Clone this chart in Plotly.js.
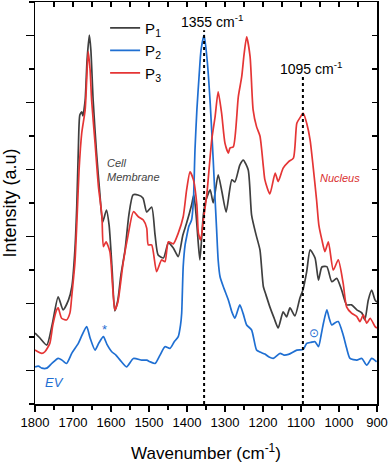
<!DOCTYPE html>
<html>
<head>
<meta charset="utf-8">
<script src="https://cdn.plot.ly/plotly-3.0.1.min.js"></script>
<style>
  html, body { margin: 0; padding: 0; background: #fff; }
  #chart { width: 390px; height: 463px; }
</style>
</head>
<body>
<div id="chart"></div>
<script>
// Raman spectra, values (arbitrary intensity units)
var p1Wave = [1800,1787,1769,1755,1739,1726,1712,1703,1695,1690,1686,1682,1677,1674,1668,1663,1657,1653,1647,1638,
  1629,1622,1612,1605,1597,1590,1582,1574,1563,1553,1542,1529,1516,1506,1493,1484,1476,1462,1449,1436,
  1423,1411,1401,1388,1382,1376,1370,1366,1357,1350,1339,1331,1318,1308,1297,1282,1274,1261,1252,1239,
  1230,1218,1208,1199,1192,1182,1171,1160,1147,1138,1129,1116,1103,1095,1085,1076,1063,1054,1045,1032,
  1019,1006,993,980,967,953,940,932,923,914,905,900];
var p1Int = [2.12,1.97,1.76,2.36,3.20,2.81,3.10,3.50,4.60,5.94,7.58,8.63,8.72,8.60,9.07,10.27,11.01,10.57,9.07,7.49,
  6.24,5.43,5.79,5.34,4.00,2.78,3.10,3.85,4.60,5.64,6.24,6.24,6.15,5.73,5.88,5.04,4.45,4.36,4.81,4.66,
  4.40,5.04,5.40,5.94,6.24,5.64,4.75,4.30,5.64,6.09,6.39,6.00,6.84,6.33,5.73,6.69,6.63,7.13,7.28,6.99,
  5.64,5.04,4.60,3.50,3.25,2.90,2.57,2.27,2.75,2.60,2.87,2.63,3.16,3.40,3.95,4.60,4.36,3.70,4.09,4.10,
  3.65,3.75,3.40,2.96,2.96,2.81,2.72,2.51,3.10,3.40,3.10,3.04];

var p2Wave = [1800,1791,1782,1769,1755,1739,1729,1717,1703,1686,1676,1664,1655,1642,1632,1620,1611,1598,1587,1576,
  1559,1541,1519,1506,1497,1484,1471,1458,1445,1434,1423,1417,1414,1410,1405,1401,1395,1388,1383,1379,
  1374,1368,1363,1355,1347,1339,1331,1326,1322,1318,1313,1303,1291,1282,1274,1261,1252,1243,1230,1217,
  1208,1195,1184,1173,1155,1145,1133,1111,1094,1085,1074,1063,1054,1047,1041,1032,1026,1019,1011,1002,
  989,980,971,953,940,927,914,901];
var p2Int = [1.11,1.13,1.07,1.07,1.22,1.36,1.31,1.21,1.52,1.81,2.06,2.31,1.97,1.61,1.82,2.01,1.79,1.56,1.46,1.31,
  1.11,1.36,1.31,1.31,1.26,1.21,1.46,1.71,1.66,1.85,2.01,2.36,2.71,4.10,4.75,4.99,5.31,5.49,6.09,7.58,
  8.78,9.82,10.57,11.01,10.27,8.99,7.28,6.09,5.19,4.30,3.80,3.46,3.10,2.75,2.56,2.96,2.69,2.36,2.21,1.61,
  1.55,1.49,1.40,1.36,1.51,1.46,1.48,1.61,1.63,1.81,1.84,1.86,1.71,2.06,2.41,2.81,2.57,2.36,2.42,2.46,
  2.06,1.67,1.36,1.31,1.36,1.16,1.36,1.26];

var p3Wave = [1800,1782,1774,1761,1753,1743,1739,1730,1717,1708,1703,1695,1689,1684,1677,1668,1664,1660,1655,1651,
  1642,1633,1624,1620,1613,1603,1596,1590,1582,1568,1555,1541,1528,1515,1506,1502,1493,1480,1467,1458,
  1449,1436,1423,1410,1401,1392,1383,1374,1370,1364,1357,1348,1335,1326,1318,1309,1300,1291,1287,1278,
  1265,1256,1250,1243,1234,1226,1217,1208,1199,1195,1182,1168,1160,1147,1133,1120,1111,1103,1094,1085,
  1076,1068,1059,1053,1045,1037,1028,1015,1002,989,980,967,953,945,936,927,918,905,900];
var p3Int = [1.61,1.51,1.56,1.81,2.36,2.81,2.87,2.56,2.51,2.72,3.25,4.21,5.64,6.99,8.09,8.78,9.67,10.52,9.97,9.07,
  7.79,6.48,5.64,4.70,4.84,4.55,3.55,2.81,3.04,4.21,5.04,5.74,5.59,5.49,5.25,4.75,4.75,3.95,4.30,4.25,
  4.84,4.78,5.10,5.59,6.39,6.93,6.69,5.94,5.10,4.90,5.49,6.24,7.88,8.58,9.32,8.69,7.78,7.49,7.64,7.68,
  9.17,9.77,10.42,10.96,10.37,8.78,8.28,8.00,7.08,6.69,6.27,6.89,6.64,7.04,7.23,7.34,8.38,8.54,8.68,8.38,
  7.88,7.08,6.09,5.34,4.90,4.55,4.84,4.00,4.30,3.60,2.90,2.71,2.61,2.46,2.66,2.41,2.56,2.31,2.27];

var seriesNames = ['P<sub>1</sub>', 'P<sub>2</sub>', 'P<sub>3</sub>'];
var seriesColors = ['#3f3f3f', '#1f6fd2', '#e53535'];

var peakWave = [1355, 1095];
var peakTop = [11.16, 9.82];
var peakLabels = ['1355 cm<sup>-1</sup>', '1095 cm<sup>-1</sup>'];

var font = 'Arial, "Liberation Sans", sans-serif';

function spectrum(x, y, i) {
  return {
    x: x, y: y, name: seriesNames[i], type: 'scatter', mode: 'lines',
    line: { color: seriesColors[i], width: 1.7, shape: 'spline', smoothing: 0.6 }
  };
}

var data = [
  spectrum(p1Wave, p1Int, 0),
  spectrum(p2Wave, p2Int, 1),
  spectrum(p3Wave, p3Int, 2),
  // empty trace so the mirrored top/right axes get drawn
  { x: [], y: [], xaxis: 'x2', yaxis: 'y2', showlegend: false, hoverinfo: 'skip' }
];

var shapes = peakWave.map(function (w, i) {
  return { type: 'line', xref: 'x', yref: 'y', x0: w, x1: w, y0: 0, y1: peakTop[i],
           line: { color: '#000', width: 2, dash: 'dot' } };
});

var annotations = [
  { x: 1335, y: 11.44, text: peakLabels[0], font: { size: 14, color: '#000' } },
  { x: 1074, y: 10.02, text: peakLabels[1], font: { size: 14, color: '#000' } },
  { x: 1616, y: 6.99, text: '<i>Cell<br>Membrane</i>', xanchor: 'left', align: 'left',
    font: { size: 11, color: '#444' } },
  { x: 1054, y: 6.74, text: '<i>Nucleus</i>', xanchor: 'left', font: { size: 11, color: '#d9302f' } },
  { x: 1778, y: 0.63, text: '<i>EV</i>', xanchor: 'left', font: { size: 13, color: '#1f6fd2' } },
  { x: 1616, y: 2.21, text: '*', font: { size: 13, color: '#1f6fd2' } },
  { x: 1065, y: 2.13, text: '\u2299', font: { size: 12, color: '#1f6fd2' } }
].map(function (a) { a.showarrow = false; a.xref = 'x'; a.yref = 'y'; return a; });

var layout = {
  width: 390, height: 463,
  margin: { l: 35, r: 13, t: 2, b: 59 },
  paper_bgcolor: '#fff', plot_bgcolor: '#fff',
  font: { family: font, color: '#000' },
  showlegend: true,
  legend: { x: 0.205, y: 0.976, xanchor: 'left', yanchor: 'top', bgcolor: 'rgba(0,0,0,0)',
            tracegroupgap: 0, font: { size: 15, color: '#000' } },
  xaxis: {
    range: [1800, 900], tick0: 900, dtick: 100, showgrid: false, zeroline: false,
    showline: true, linecolor: '#000', linewidth: 1.5,
    ticks: 'outside', ticklen: 6, tickwidth: 1.5, tickcolor: '#000',
    tickfont: { size: 13 },
    minor: { dtick: 50, ticks: 'outside', ticklen: 4, tickwidth: 1.5, tickcolor: '#000', showgrid: false },
    title: { text: 'Wavenumber (cm<sup>-1</sup>)', font: { size: 17 }, standoff: 18 }
  },
  yaxis: {
    range: [0, 12], tick0: 1, dtick: 2, showgrid: false, zeroline: false, showticklabels: false,
    showline: true, linecolor: '#000', linewidth: 1.5,
    ticks: 'outside', ticklen: 8, tickwidth: 1.5, tickcolor: '#000',
    minor: { dtick: 1, ticks: 'outside', ticklen: 5, tickwidth: 1.5, tickcolor: '#000', showgrid: false },
    title: { text: 'Intensity (a.u)', font: { size: 18 }, standoff: 6 }
  },
  xaxis2: {
    overlaying: 'x', side: 'top', anchor: 'y2', range: [1800, 900], tick0: 900, dtick: 100,
    showgrid: false, zeroline: false, showticklabels: false,
    showline: true, linecolor: '#000', linewidth: 1.5,
    ticks: 'inside', ticklen: 5, tickwidth: 1.5, tickcolor: '#000',
    minor: { dtick: 50, ticks: 'inside', ticklen: 5, tickwidth: 1.5, tickcolor: '#000', showgrid: false }
  },
  yaxis2: {
    overlaying: 'y', side: 'right', anchor: 'x2', range: [0, 12], tick0: 1, dtick: 2,
    showgrid: false, zeroline: false, showticklabels: false,
    showline: true, linecolor: '#000', linewidth: 1.5,
    ticks: 'inside', ticklen: 5, tickwidth: 1.5, tickcolor: '#000',
    minor: { dtick: 1, ticks: 'inside', ticklen: 5, tickwidth: 1.5, tickcolor: '#000', showgrid: false }
  },
  shapes: shapes,
  annotations: annotations
};

Plotly.newPlot('chart', data, layout, { displayModeBar: false, staticPlot: true });
</script>
</body>
</html>
